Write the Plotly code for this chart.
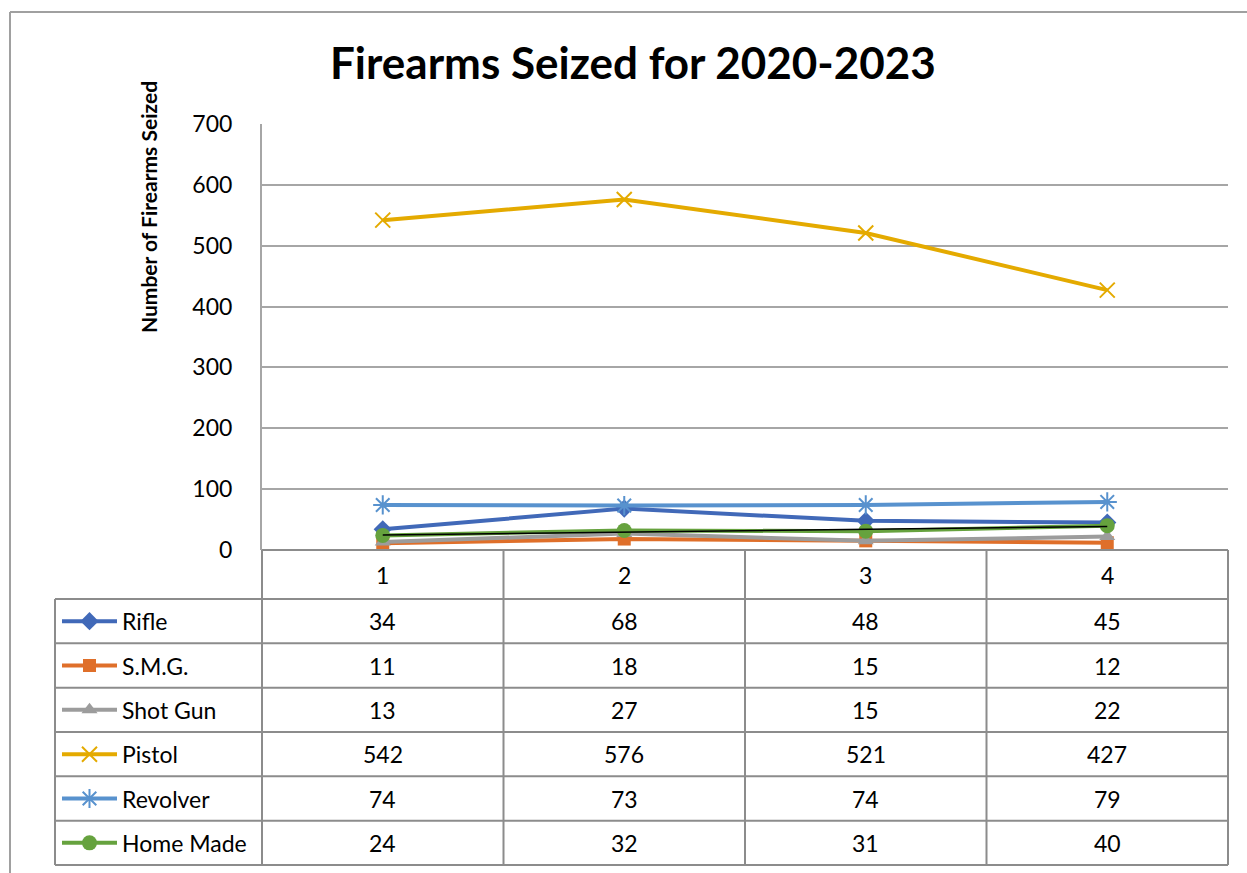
import numpy as np
import plotly.graph_objects as go

# ---- data ----
periods = [1, 2, 3, 4]
series_names = ["Rifle", "S.M.G.", "Shot Gun", "Pistol", "Revolver", "Home Made"]
rifle = [34, 68, 48, 45]
smg = [11, 18, 15, 12]
shot_gun = [13, 27, 15, 22]
pistol = [542, 576, 521, 427]
revolver = [74, 73, 74, 79]
home_made = [24, 32, 31, 40]
y_ticks = [0, 100, 200, 300, 400, 500, 600, 700]

values = [rifle, smg, shot_gun, pistol, revolver, home_made]
colors = ["#4169B8", "#DF6F2A", "#9C9C9C", "#E4AA00", "#5892CE", "#66A23E"]
symbols = ["diamond", "square", "triangle-up", "x-thin", "asterisk", "circle"]
msizes = [14, 13, 14, 15, 16, 15]

W, H = 1247, 873
FONT = "Lato"
GRID = "#A6A6A6"
TABLE = "#8C8C8C"

# plot area in pixels
PL, PR, PT, PB = 262, 1228, 124, 550


def px(x):
    return x / W


def py(y):
    return 1 - y / H


fig = go.Figure()

for name, vals, col, sym, ms in zip(series_names, values, colors, symbols, msizes):
    open_sym = sym in ("x-thin", "asterisk")
    fig.add_trace(go.Scatter(
        x=periods, y=vals, mode="lines+markers", name=name,
        line=dict(color=col, width=4),
        marker=dict(symbol=sym, size=ms, color=col,
                    line=dict(color=col, width=2 if open_sym else 0)),
        showlegend=False, xaxis="x", yaxis="y",
    ))

# linear trend of the home-made series
slope, intercept = np.polyfit(periods, home_made, 1)
trend = [slope * p + intercept for p in periods]
fig.add_trace(go.Scatter(
    x=periods, y=trend, mode="lines", line=dict(color="black", width=1.5),
    showlegend=False, hoverinfo="skip", xaxis="x", yaxis="y",
))

shapes = []
# outer chart border
shapes.append(dict(type="line", xref="paper", yref="paper",
                   x0=px(10), x1=px(10), y0=py(12), y1=py(H + 5),
                   line=dict(color="#A0A0A0", width=2)))
shapes.append(dict(type="line", xref="paper", yref="paper",
                   x0=px(10), x1=px(W + 5), y0=py(12), y1=py(12),
                   line=dict(color="#A0A0A0", width=2)))

# data table grid
row_top = 599
row_h = (865 - 599) / 6
row_lines = [row_top + i * row_h for i in range(7)]
col_lines = [262, 503.5, 745, 986.5, 1228]
for yl in row_lines:
    shapes.append(dict(type="line", xref="paper", yref="paper",
                       x0=px(55), x1=px(1228), y0=py(yl), y1=py(yl),
                       line=dict(color=TABLE, width=2)))
for xl in col_lines:
    shapes.append(dict(type="line", xref="paper", yref="paper",
                       x0=px(xl), x1=px(xl), y0=py(PB), y1=py(865),
                       line=dict(color=TABLE, width=2)))
shapes.append(dict(type="line", xref="paper", yref="paper",
                   x0=px(55), x1=px(55), y0=py(row_top), y1=py(865),
                   line=dict(color=TABLE, width=2)))
shapes.append(dict(type="line", xref="paper", yref="paper",
                   x0=px(PL), x1=px(PR), y0=py(PB), y1=py(PB),
                   line=dict(color=TABLE, width=2)))

annotations = []
cell_font = dict(family=FONT, size=23, color="black")
# header row with period numbers
for p in periods:
    annotations.append(dict(x=p, y=py(575), xref="x", yref="paper",
                            text=str(p), showarrow=False, yanchor="middle",
                            font=cell_font))
# table values and legend keys
for i, (name, vals, col, sym, ms) in enumerate(zip(series_names, values, colors, symbols, msizes)):
    yc = row_top + (i + 0.5) * row_h
    for p, v in zip(periods, vals):
        annotations.append(dict(x=p, y=py(yc), xref="x", yref="paper",
                                text=str(v), showarrow=False, yanchor="middle",
                                font=cell_font))
    annotations.append(dict(x=px(120), y=py(yc), xref="paper", yref="paper",
                            text=name, showarrow=False, xanchor="left",
                            yanchor="middle", font=cell_font))
    shapes.append(dict(type="line", xref="paper", yref="paper",
                       x0=px(62), x1=px(117), y0=py(yc), y1=py(yc),
                       line=dict(color=col, width=4)))
    open_sym = sym in ("x-thin", "asterisk")
    fig.add_trace(go.Scatter(
        x=[89.5], y=[yc], mode="markers", xaxis="x2", yaxis="y2",
        marker=dict(symbol=sym, size=ms, color=col,
                    line=dict(color=col, width=2 if open_sym else 0)),
        showlegend=False, hoverinfo="skip",
    ))

# title and y-axis title
annotations.append(dict(x=px(633), y=py(62), xref="paper", yref="paper",
                        text="<b>Firearms Seized for 2020-2023</b>", showarrow=False,
                        xanchor="center", yanchor="middle",
                        font=dict(family=FONT, size=44, color="black")))
annotations.append(dict(x=px(148), y=py(207), xref="paper", yref="paper",
                        text="<b>Number of Firearms Seized</b>", showarrow=False,
                        textangle=-90, xanchor="center", yanchor="middle",
                        font=dict(family=FONT, size=21, color="black")))

fig.update_layout(
    width=W, height=H,
    margin=dict(l=0, r=0, t=0, b=0, pad=0, autoexpand=False),
    paper_bgcolor="white", plot_bgcolor="rgba(0,0,0,0)",
    shapes=shapes, annotations=annotations,
    xaxis=dict(domain=[px(PL), px(PR)], range=[0.5, 4.5], automargin=False,
               showgrid=False, zeroline=False, showticklabels=False,
               showline=False, fixedrange=True),
    yaxis=dict(domain=[py(PB), py(PT)], range=[0, 700], automargin=False,
               tickvals=y_ticks, ticktext=[str(t) for t in y_ticks],
               showgrid=True, gridcolor=GRID, gridwidth=1.5,
               zeroline=False, showline=True, linecolor=GRID, linewidth=2,
               ticks="", ticklabelstandoff=23, fixedrange=True,
               tickfont=dict(family=FONT, size=23, color="black")),
    xaxis2=dict(domain=[0, 1], range=[0, W], visible=False, fixedrange=True,
                automargin=False, anchor="y2"),
    yaxis2=dict(domain=[0, 1], range=[H, 0], visible=False, fixedrange=True,
                automargin=False, anchor="x2"),
)

fig.write_html("out.html")
